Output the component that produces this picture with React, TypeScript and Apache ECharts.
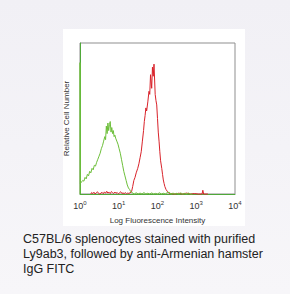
import React, { useEffect, useRef } from "react";
import * as echarts from "echarts";

// x positions are in decades (log10 of fluorescence intensity), y is relative cell number
const decadeTicks = [0, 1, 2, 3, 4];

const greenLog = [
  0, 0, 0.01, 0.04, 0.07, 0.1, 0.13, 0.16, 0.19, 0.22, 0.25, 0.28, 0.31, 0.34, 0.37, 0.4,
  0.43, 0.46, 0.49, 0.52, 0.55, 0.58, 0.61, 0.64, 0.66, 0.68, 0.7, 0.72, 0.74, 0.76, 0.78,
  0.8, 0.82, 0.84, 0.86, 0.88, 0.9, 0.92, 0.95, 0.98, 1.01, 1.04, 1.07, 1.1, 1.13, 1.16,
  1.19, 1.22, 1.25, 1.28, 1.31, 1.34, 1.37, 1.4, 1.45, 1.5, 1.55, 1.6, 1.65, 1.7, 1.75,
  1.8, 1.85, 1.9, 1.95, 2.0, 2.05, 2.1, 2.15, 2.2, 2.25, 2.3, 2.35, 2.4, 2.45, 2.5, 2.55,
  2.6, 2.65, 2.7, 2.75, 2.8, 2.85, 2.9,
];
const greenCount = [
  0, 87, 7, 8, 9, 8.5, 11, 10, 13, 12, 15, 14, 17, 16, 19, 18.5,
  21, 23, 25, 27, 30, 32, 35, 38, 36, 45, 40, 47, 42, 46, 48,
  41, 44, 40, 42, 38, 39, 37, 35, 33, 30, 27, 23, 19, 15, 12,
  9, 6, 4, 3, 1.5, 1, 0.5, 0, 0.8, 0, 0.6, 0, 0.9, 0, 0.5,
  0, 0.7, 0, 0.4, 0, 0.8, 0, 0.5, 0, 0.9, 1.2, 0, 0.6, 0, 0.5, 0,
  0.7, 0, 0.4, 0, 0.6, 0, 0,
];

const redLog = [
  0.28, 0.3, 0.33, 0.36, 0.39, 0.42, 0.45, 0.48, 0.51, 0.54, 0.57, 0.6, 0.63, 0.66, 0.69,
  0.72, 0.75, 0.78, 0.81, 0.84, 0.87, 0.9, 0.93, 0.96, 0.99, 1.02, 1.05, 1.08, 1.11, 1.14,
  1.17, 1.2, 1.23, 1.26, 1.29, 1.33, 1.36, 1.39, 1.42, 1.45, 1.49, 1.52, 1.55, 1.58, 1.61,
  1.64, 1.66, 1.68, 1.7, 1.72, 1.75, 1.78, 1.8, 1.82, 1.85, 1.87, 1.89, 1.91, 1.94, 1.96,
  1.98, 2.0, 2.02, 2.04, 2.06, 2.08, 2.11, 2.13, 2.15, 2.17, 2.19, 2.22, 2.26, 2.3, 2.35,
  2.45, 2.55, 2.65, 2.75, 2.85, 2.95, 3.05, 3.15, 3.17, 3.19, 3.3,
];
const redCount = [
  0, 1, 0.3, 1.2, 0, 0.8, 1.5, 0.4, 0, 0.6, 1.1, 0.2, 1.4, 0.5, 1.8,
  0.6, 1.2, 0.3, 1.6, 0.9, 0.4, 1.3, 0.5, 1, 0.2, 0.8, 1.5, 0.4, 0.7, 0.3,
  0.9, 0.2, 0.6, 0.4, 0.8, 1.5, 5, 9, 11, 14, 17, 20, 24, 28, 35,
  42, 48, 52, 57, 55, 61, 68, 66, 79, 70, 84, 78, 86, 66, 62,
  59, 50, 41, 35, 28, 22, 17, 13, 9.3, 7, 4.9, 3, 1.5, 0.5, 0.3,
  0, 0.5, 0, 0.6, 0, 0.3, 0, 0, 2.5, 0, 0,
];

const captionLines = [
  "C57BL/6 splenocytes stained with purified",
  "Ly9ab3, followed by anti-Armenian hamster",
  "IgG FITC",
];

export default function App() {
  const ref = useRef<HTMLDivElement>(null);
  useEffect(() => {
    if (!ref.current) return;
    const chart = echarts.init(ref.current, null, { renderer: "svg" });
    const green = greenLog.map((x, i) => [x, greenCount[i]]);
    const red = redLog.map((x, i) => [x, redCount[i]]);
    chart.setOption({
      animation: false,
      backgroundColor: {
        type: "linear",
        x: 0,
        y: 0,
        x2: 0,
        y2: 1,
        colorStops: [
          { offset: 0, color: "#f1f0f5" },
          { offset: 1, color: "#f7f6f9" },
        ],
      },
      graphic: [
        {
          type: "rect",
          z: -10,
          shape: { x: 63, y: 29, width: 182, height: 197 },
          style: { fill: "#ffffff" },
        },
        ...captionLines.map((t, i) => ({
          type: "text",
          left: 23,
          top: 232 + i * 15,
          style: {
            text: t,
            font: "12.5px 'Liberation Sans', Arial, sans-serif",
            fill: "#222222",
          },
        })),
      ],
      grid: {
        left: 80,
        right: 55,
        top: 43,
        bottom: 100,
        show: true,
        borderColor: "#8f8f8f",
        borderWidth: 1,
        backgroundColor: "#ffffff",
      },
      xAxis: {
        type: "value",
        min: 0,
        max: 4,
        interval: 1,
        axisLine: { show: true, lineStyle: { color: "#4fa83a", width: 1 } },
        axisTick: { show: false },
        splitLine: { show: false },
        axisLabel: {
          margin: 6,
          color: "#333",
          formatter: (v: number) => `{b|10}{s|${v}}`,
          rich: {
            b: { fontSize: 9, fontFamily: "'Liberation Sans', Arial", color: "#333" },
            s: {
              fontSize: 6,
              fontFamily: "'Liberation Sans', Arial",
              color: "#333",
              padding: [0, 0, 6, 0],
            },
          },
        },
        name: "Log Fluorescence Intensity",
        nameLocation: "middle",
        nameGap: 22,
        nameTextStyle: {
          fontSize: 8,
          fontFamily: "'Liberation Sans', Arial",
          color: "#333",
        },
      },
      yAxis: {
        type: "value",
        min: 0,
        max: 100,
        axisLine: { show: true, lineStyle: { color: "#4fa83a", width: 1 } },
        axisTick: { show: false },
        axisLabel: { show: false },
        splitLine: { show: false },
        name: "Relative Cell Number",
        nameLocation: "middle",
        nameGap: 10,
        nameTextStyle: {
          fontSize: 8,
          fontFamily: "'Liberation Sans', Arial",
          color: "#333",
        },
      },
      series: [
        {
          type: "line",
          data: red,
          showSymbol: false,
          symbol: "none",
          clip: false,
          lineStyle: { color: "#d9222a", width: 1 },
        },
        {
          type: "line",
          data: green,
          showSymbol: false,
          symbol: "none",
          clip: false,
          lineStyle: { color: "#6dbf3a", width: 1 },
        },
      ],
    });
    return () => chart.dispose();
  }, []);
  return (
    <div
      ref={ref}
      style={{ position: "fixed", left: 0, top: 0, width: 290, height: 294 }}
    />
  );
}
